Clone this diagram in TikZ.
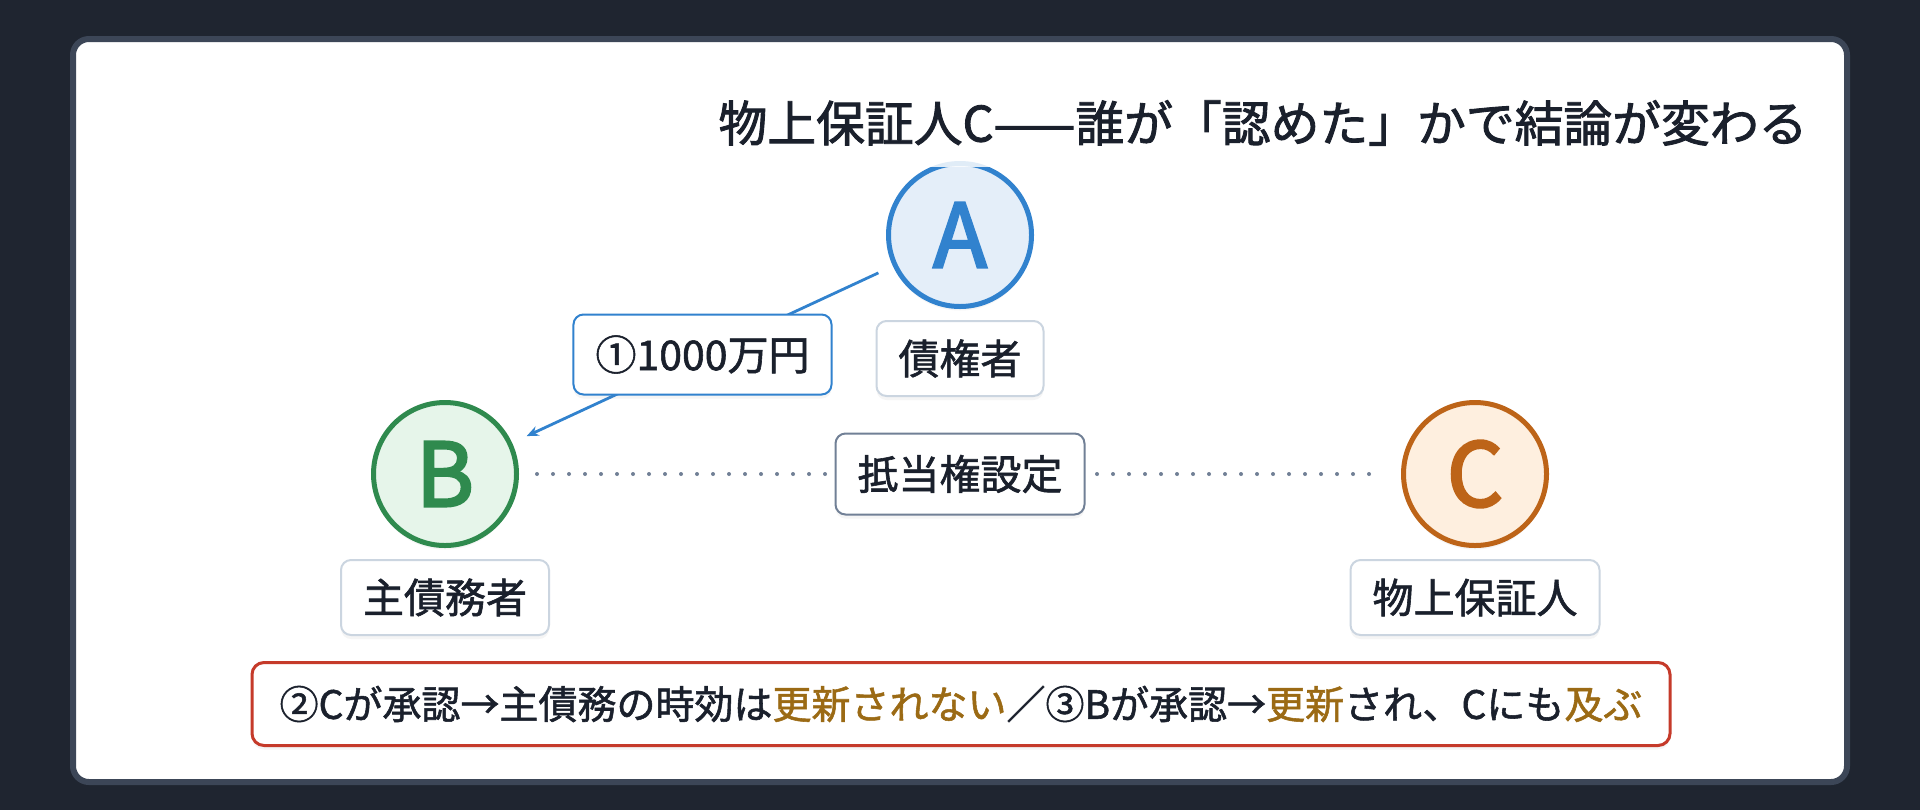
\documentclass[tikz,border=0pt]{standalone}
\usepackage{fontspec}
\setmainfont{Noto Sans CJK JP}
\newfontfamily\medfont[FakeBold=1.4]{Noto Sans CJK JP}
\newfontfamily\titlefont[FakeBold=1.8]{Noto Sans CJK JP}
\newfontfamily\heavyfont[FakeBold=3]{Noto Sans CJK JP}
\usetikzlibrary{positioning,arrows.meta,shadows}
\definecolor{pagebg}{HTML}{1F2530}
\definecolor{panelrim}{HTML}{3C4657}
\definecolor{inkdark}{HTML}{1A202C}
\definecolor{credblue}{HTML}{3182CE}
\definecolor{credfill}{HTML}{E4EEF9}
\definecolor{debtgreen}{HTML}{2F8A4E}
\definecolor{debtfill}{HTML}{E6F5EA}
\definecolor{guarorange}{HTML}{BD6418}
\definecolor{guarfill}{HTML}{FEEFDF}
\definecolor{tagrim}{HTML}{CBD5E0}
\definecolor{dotgray}{HTML}{718096}
\definecolor{notered}{HTML}{C53A2A}
\definecolor{gold}{HTML}{9B6A14}
\tikzset{
  softshadow/.style={drop shadow={opacity=0.08, shadow xshift=0pt, shadow yshift=-2pt}},
  party/.style={circle, minimum size=71.5pt, inner sep=0pt, line width=2.5pt, softshadow,
    font=\heavyfont\fontsize{44}{44}\selectfont},
  roletag/.style={draw=tagrim, solid, line width=1pt, rounded corners=5pt, fill=white, text=inkdark,
    minimum height=37.5pt, inner xsep=11pt, softshadow, font=\medfont\fontsize{20.5}{24}\selectfont},
  loan/.style={credblue, line width=1.4pt, shorten <=8pt, shorten >=8pt,
    -{Stealth[length=6pt, width=5pt]}},
  mortgage/.style={dotgray, line width=2pt, dash pattern=on 0pt off 8pt, line cap=round,
    shorten <=9pt, shorten >=9pt},
  notebox/.style={draw=notered, line width=1.5pt, rounded corners=6pt, fill=white, text=inkdark,
    minimum width=709pt, minimum height=41.5pt, softshadow, font=\medfont\fontsize{19.5}{24}\selectfont},
  titletext/.style={fill=white, fill opacity=0.85, text opacity=1, text=inkdark, minimum height=44pt,
    inner xsep=10pt, font=\titlefont\fontsize{24.4}{28}\selectfont}
}
\begin{document}
\begin{tikzpicture}[x=0.5pt, y=-0.5pt]
	% page and panel
	\fill[pagebg] (0,0) rectangle (1920,810);
	\draw[panelrim, fill=white, line width=3pt, rounded corners=8pt] (73,39) rectangle (1847,782);
	% parties
	\node[party, draw=credblue, fill=credfill, text=credblue] (A) at (960,235) {A};
	\node[party, draw=debtgreen, fill=debtfill, text=debtgreen] (B) at (445,474) {B};
	\node[party, draw=guarorange, fill=guarfill, text=guarorange] (C) at (1475,474) {C};
	\node[roletag, below=5.5pt of A] (Atag) {債権者};
	\node[roletag, below=5.5pt of B] (Btag) {主債務者};
	\node[roletag, below=5.5pt of C] (Ctag) {物上保証人};
	% relations
	\draw[loan] (A) -- node[roletag, draw=credblue, minimum height=40pt] (loanamt) {①1000万円} (B);
	\draw[mortgage] (B) -- node[roletag, draw=dotgray, line cap=butt, minimum height=40.5pt] (mtg) {抵当権設定} (C);
	% title and conclusion
	\node[titletext] (title) at (1263,123) {物上保証人C——誰が「認めた」かで結論が変わる};
	\node[notebox] (note) at (961,704) {②Cが承認→主債務の時効は\textcolor{gold}{更新されない}／③Bが承認→\textcolor{gold}{更新}され、Cにも\textcolor{gold}{及ぶ}};
\end{tikzpicture}
\end{document}
